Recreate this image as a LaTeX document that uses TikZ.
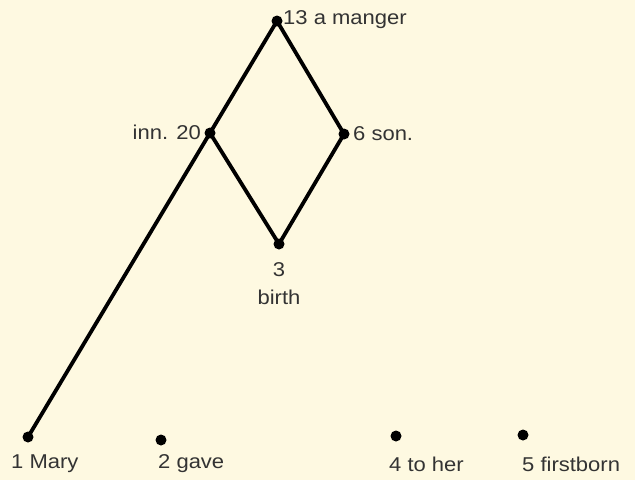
\documentclass[tikz,border=0pt]{standalone}
\usepackage{fontspec}
\setmainfont{Liberation Sans}[FakeStretch=1.1]
\begin{document}
\begin{tikzpicture}[x=1pt,y=-1pt,
  dot/.style={circle,fill=black,inner sep=0pt,minimum size=11pt},
  lbl/.style={font=\fontsize{20}{24}\selectfont,text=black!80,inner sep=0pt},
  edge/.style={line width=3.8pt,line cap=round}]
\fill[fill={rgb,255:red,254;green,249;blue,225}] (0,0) rectangle (635,480);
\useasboundingbox (0,0) rectangle (635,480);
\node[dot] (n13) at (277,21) {};
\node[dot] (n20) at (210,133) {};
\node[dot] (n6) at (344,134) {};
\node[dot] (n3) at (279,244) {};
\node[dot] (n1) at (28,437) {};
\node[dot] (n2) at (161,440) {};
\node[dot] (n4) at (396,436) {};
\node[dot] (n5) at (523,435) {};
\draw[edge] (n13.center) -- (n20.center) -- (n3.center) -- (n6.center) -- (n13.center);
\draw[edge] (n20.center) -- (n1.center);
\node[lbl,anchor=west] (t13) at (283,20) {13 a manger};
\node[lbl,anchor=east] (t20) at (201,132) {inn. 20};
\node[lbl,anchor=west] (t6) at (353,134) {6 son.};
\node[lbl] (t3) at (279,270) {3};
\node[lbl] (t3b) at (279,297) {birth};
\node[lbl,anchor=west] (t1) at (11,464) {1 Mary};
\node[lbl,anchor=west] (t2) at (158,464) {2 gave};
\node[lbl,anchor=west] (t4) at (389,464) {4 to her};
\node[lbl,anchor=west] (t5) at (522,464) {5 firstborn};
\end{tikzpicture}
\end{document}
